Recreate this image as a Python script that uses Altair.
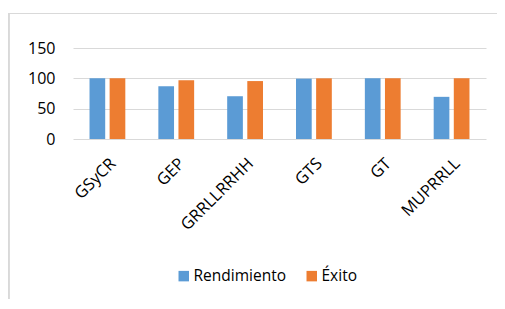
import altair as alt
import pandas as pd

categories = ["GSyCR", "GEP", "GRRLLRRHH", "GTS", "GT", "MUPRRLL"]
rendimiento = [100, 87, 70.5, 99.5, 100, 69.5]
exito = [100, 97, 95.5, 100, 100, 100]
series_names = ["Rendimiento", "Éxito"]
colors = ["#5B9BD5", "#ED7D31"]

rows = []
for c, r, e in zip(categories, rendimiento, exito):
    rows.append({"cat": c, "serie": series_names[0], "val": r})
    rows.append({"cat": c, "serie": series_names[1], "val": e})
df = pd.DataFrame(rows)

FONT = "Open Sans"
W, H = 413, 91

bars = alt.Chart(df).mark_bar().encode(
    x=alt.X("cat:N", sort=categories, title=None,
            scale=alt.Scale(paddingInner=0.48, paddingOuter=0.24),
            axis=alt.Axis(labelAngle=-45, ticks=False, domain=False, grid=False,
                          labelPadding=16, labelFontSize=16.5, labelColor="#000000",
                          labelFont=FONT)),
    xOffset=alt.XOffset("serie:N", sort=series_names,
                        scale=alt.Scale(paddingInner=0.22, paddingOuter=0)),
    y=alt.Y("val:Q", title=None,
            scale=alt.Scale(domain=[0, 150], nice=False),
            axis=alt.Axis(values=[0, 50, 100, 150], ticks=False, domain=False,
                          labelPadding=18, labelFontSize=16, labelColor="#000000",
                          labelFont=FONT, gridColor="#d9d9d9", gridWidth=1)),
    color=alt.Color("serie:N", sort=series_names,
                    scale=alt.Scale(domain=series_names, range=colors),
                    legend=alt.Legend(title=None, orient="none", direction="horizontal",
                                      legendX=103, legendY=220, symbolType="square",
                                      symbolSize=110, symbolStrokeWidth=0,
                                      labelFontSize=15.5, labelFont=FONT,
                                      labelColor="#000000", columnPadding=18,
                                      labelOffset=2)),
)

top_border = alt.Chart(df).mark_rule(color="#d9d9d9", strokeWidth=1).encode(
    x=alt.value(-65), x2=alt.value(430), y=alt.value(-34.5)
)
left_border = alt.Chart(df).mark_rule(color="#d9d9d9", strokeWidth=1.5).encode(
    x=alt.value(-64.5), y=alt.value(-35), y2=alt.value(300)
)

chart = alt.layer(bars, top_border, left_border).properties(
    width=W, height=H,
    padding={"left": 65, "top": 40, "right": 11, "bottom": 160},
    autosize=alt.AutoSizeParams(type="none"),
    background="#ffffff",
).configure_view(strokeWidth=0)

chart.save("out.html", embed_options={"renderer": "svg", "actions": False})
